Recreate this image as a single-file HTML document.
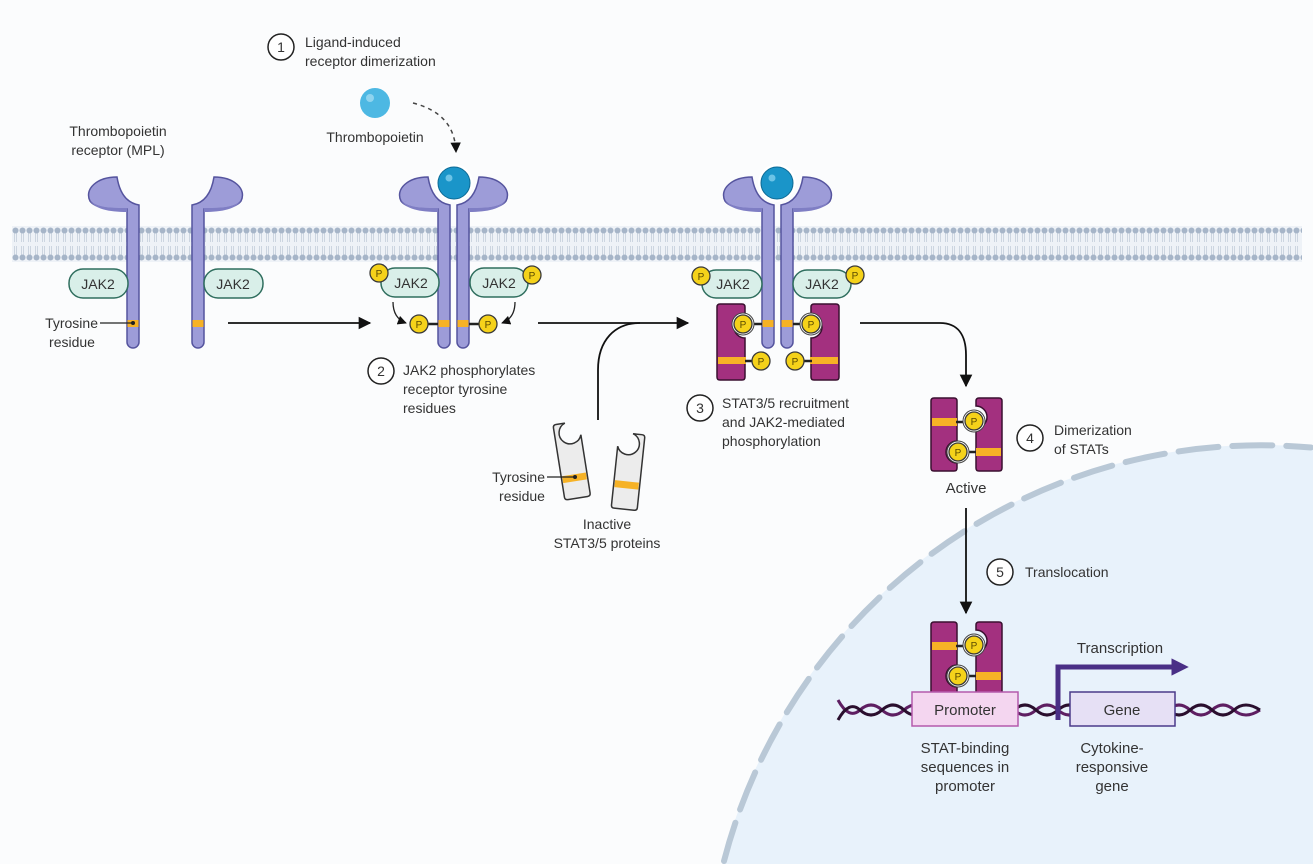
<!DOCTYPE html>
<html><head><meta charset="utf-8"><style>
html,body{margin:0;padding:0;background:#fbfcfd;width:1313px;height:864px;overflow:hidden;}
svg{display:block;font-family:"Liberation Sans",sans-serif;overflow:hidden;}
text{font-size:14px;fill:#333;}
</style></head><body>
<svg width="1313" height="864" viewBox="0 0 1313 864" xmlns="http://www.w3.org/2000/svg">
<defs>
<pattern id="mem" x="12" y="226" width="7" height="36" patternUnits="userSpaceOnUse">
<line x1="2.5" y1="7" x2="2.5" y2="16" stroke="#c3cedb" stroke-width="0.8"/>
<line x1="4.5" y1="7" x2="4.5" y2="16" stroke="#c3cedb" stroke-width="0.8"/>
<line x1="2.5" y1="20" x2="2.5" y2="29" stroke="#c3cedb" stroke-width="0.8"/>
<line x1="4.5" y1="20" x2="4.5" y2="29" stroke="#c3cedb" stroke-width="0.8"/>
<circle cx="3.5" cy="4.5" r="3" fill="#a6b5c8"/>
<circle cx="3.5" cy="31.5" r="3" fill="#a6b5c8"/>
</pattern>
<g id="rec">
<path d="M -10 0 C -30 0 -43 12 -37 24 C -31 32 -15 32 0 32 L 0 165 A 6 6 0 0 0 12 165 L 12 28 Q -6 25 -10 0 Z" fill="#9d9cd8" stroke="#55549e" stroke-width="1.5"/>
<path d="M -37 23 C -31 31 -15 31 0 31 L 0 35 C -18 35 -33 32 -37 23 Z" fill="#7f7ec4"/>
<rect x="0.5" y="143" width="11" height="7" fill="#f6b226"/>
</g>
<g id="statR">
<path d="M0,3 Q0,0 3,0 L25,0 Q28,0 28,3 L28,12 A11 11 0 0 0 28 34 L28 73 Q28 76 25 76 L3 76 Q0 76 0 73 Z"/>
</g>
<g id="statI">
<path d="M0,3 Q0,0 3,0 L12,0 A11 11 0 1 0 26 14 L26 73 Q26 76 23 76 L3 76 Q0 76 0 73 Z"/>
</g>
<g id="P">
<circle r="9" fill="#f5d21a" stroke="#3a3a3a" stroke-width="1.3"/>
<text y="4" text-anchor="middle" style="font-size:10px;fill:#5a4a00">P</text>
</g>
<marker id="ah" viewBox="0 0 10 10" refX="9" refY="5" markerWidth="7" markerHeight="7" orient="auto"><path d="M0,0 L10,5 L0,10 Z" fill="#111"/></marker>
<marker id="ahp" viewBox="0 0 10 10" refX="5" refY="5" markerWidth="3.5" markerHeight="3.5" orient="auto"><path d="M0,0 L10,5 L0,10 Z" fill="#4a2f86"/></marker>
</defs>

<!-- nucleus -->
<path d="M722,864 A555 555 0 0 1 1313,447.5 L1313,864 Z" fill="#e8f2fb"/>
<path d="M724,861 A555 555 0 0 1 1311,447.5" fill="none" stroke="#b9c8d6" stroke-width="6" stroke-dasharray="40 14" stroke-linecap="round"/>

<!-- membrane -->
<rect x="12" y="226" width="1290" height="36" fill="#eef2f7"/>
<rect x="12" y="226" width="1290" height="36" fill="url(#mem)"/>

<!-- left receptors -->
<use href="#rec" transform="translate(127,177)"/>
<use href="#rec" transform="translate(204,177) scale(-1,1)"/>
<rect x="69" y="269" width="59" height="29" rx="14" fill="#d9efe9" stroke="#2f6e5e" stroke-width="1.5"/>
<text x="98" y="289" text-anchor="middle">JAK2</text>
<rect x="204" y="269" width="59" height="29" rx="14" fill="#d9efe9" stroke="#2f6e5e" stroke-width="1.5"/>
<text x="233" y="289" text-anchor="middle">JAK2</text>
<text x="118" y="136" text-anchor="middle">Thrombopoietin</text>
<text x="118" y="155" text-anchor="middle">receptor (MPL)</text>
<text x="98" y="328" text-anchor="end">Tyrosine</text>
<text x="72" y="347" text-anchor="middle">residue</text>
<line x1="100" y1="323" x2="133" y2="323" stroke="#222" stroke-width="1.2"/>
<circle cx="133" cy="323" r="2" fill="#222"/>

<!-- step 1 -->
<circle cx="281" cy="47" r="13" fill="#fff" stroke="#222" stroke-width="1.5"/>
<text x="281" y="52" text-anchor="middle">1</text>
<text x="305" y="47">Ligand-induced</text>
<text x="305" y="66">receptor dimerization</text>
<circle cx="375" cy="103" r="15" fill="#4db8e3"/>
<circle cx="370" cy="98" r="4" fill="#8fd4ef"/>
<text x="375" y="142" text-anchor="middle">Thrombopoietin</text>
<path d="M413,103 C440,110 455,125 456,152" fill="none" stroke="#444" stroke-width="1.5" stroke-dasharray="4 4" marker-end="url(#ah)"/>

<!-- arrows -->
<line x1="228" y1="323" x2="370" y2="323" stroke="#111" stroke-width="1.8" marker-end="url(#ah)"/>
<line x1="538" y1="323" x2="688" y2="323" stroke="#111" stroke-width="1.8" marker-end="url(#ah)"/>
<path d="M598,420 L598,370 C598,340 615,323 640,323" fill="none" stroke="#111" stroke-width="1.8"/>
<path d="M860,323 L940,323 C958,323 966,335 966,355 L966,386" fill="none" stroke="#111" stroke-width="1.8" marker-end="url(#ah)"/>
<line x1="966" y1="508" x2="966" y2="613" stroke="#111" stroke-width="1.8" marker-end="url(#ah)"/>

<!-- step 2 dimer -->
<use href="#rec" transform="translate(438,177)"/>
<use href="#rec" transform="translate(469,177) scale(-1,1)"/>
<circle cx="454" cy="183" r="19" fill="#fff"/>
<circle cx="454" cy="183" r="16" fill="#1a95c9" stroke="#0d6a95" stroke-width="1"/>
<circle cx="449" cy="178" r="3.5" fill="#6cc3e6"/>
<rect x="381" y="268" width="58" height="29" rx="14" fill="#d9efe9" stroke="#2f6e5e" stroke-width="1.5"/>
<text x="411" y="288" text-anchor="middle">JAK2</text>
<rect x="470" y="268" width="58" height="29" rx="14" fill="#d9efe9" stroke="#2f6e5e" stroke-width="1.5"/>
<text x="499" y="288" text-anchor="middle">JAK2</text>
<use href="#P" transform="translate(379,273)"/>
<use href="#P" transform="translate(532,275)"/>
<line x1="419" y1="324" x2="438" y2="324" stroke="#222" stroke-width="2.5"/>
<line x1="469" y1="324" x2="488" y2="324" stroke="#222" stroke-width="2.5"/>
<use href="#P" transform="translate(419,324)"/>
<use href="#P" transform="translate(488,324)"/>
<path d="M393,302 C393,314 398,320 406,323" fill="none" stroke="#222" stroke-width="1.3" marker-end="url(#ah)"/>
<path d="M515,302 C515,314 510,320 502,323" fill="none" stroke="#222" stroke-width="1.3" marker-end="url(#ah)"/>
<circle cx="381" cy="371" r="13" fill="#fff" stroke="#222" stroke-width="1.5"/>
<text x="381" y="376" text-anchor="middle">2</text>
<text x="403" y="375">JAK2 phosphorylates</text>
<text x="403" y="394">receptor tyrosine</text>
<text x="403" y="413">residues</text>

<!-- inactive STATs -->
<g transform="translate(553,425) rotate(-9)" fill="#ececec" stroke="#333" stroke-width="1.5">
<use href="#statI"/>
<rect x="1" y="52" width="24" height="7" fill="#f6b226" stroke="none"/>
</g>
<g transform="translate(645,435) rotate(6) scale(-1,1)" fill="#ececec" stroke="#333" stroke-width="1.5">
<use href="#statI"/>
<rect x="1" y="48" width="24" height="7" fill="#f6b226" stroke="none"/>
</g>
<line x1="547" y1="477" x2="574" y2="477" stroke="#222" stroke-width="1.2"/>
<circle cx="575" cy="477" r="2" fill="#222"/>
<text x="545" y="482" text-anchor="end">Tyrosine</text>
<text x="522" y="501" text-anchor="middle">residue</text>
<text x="607" y="529" text-anchor="middle">Inactive</text>
<text x="607" y="548" text-anchor="middle">STAT3/5 proteins</text>

<!-- step 3 complex -->
<use href="#rec" transform="translate(762,177)"/>
<use href="#rec" transform="translate(793,177) scale(-1,1)"/>
<circle cx="777" cy="183" r="19" fill="#fff"/>
<circle cx="777" cy="183" r="16" fill="#1a95c9" stroke="#0d6a95" stroke-width="1"/>
<circle cx="772" cy="178" r="3.5" fill="#6cc3e6"/>
<rect x="702" y="270" width="60" height="28" rx="14" fill="#d9efe9" stroke="#2f6e5e" stroke-width="1.5"/>
<text x="733" y="289" text-anchor="middle">JAK2</text>
<rect x="793" y="270" width="58" height="28" rx="14" fill="#d9efe9" stroke="#2f6e5e" stroke-width="1.5"/>
<text x="822" y="289" text-anchor="middle">JAK2</text>
<use href="#P" transform="translate(701,276)"/>
<use href="#P" transform="translate(855,275)"/>
<g transform="translate(717,304)" fill="#a3307f" stroke="#3a1030" stroke-width="1.5">
<use href="#statR"/>
<rect x="1" y="53" width="28" height="7" fill="#f6b226" stroke="none"/>
</g>
<g transform="translate(839,304) scale(-1,1)" fill="#a3307f" stroke="#3a1030" stroke-width="1.5">
<use href="#statR"/>
<rect x="1" y="53" width="28" height="7" fill="#f6b226" stroke="none"/>
</g>
<line x1="745" y1="324" x2="762" y2="324" stroke="#222" stroke-width="2.5"/>
<line x1="793" y1="324" x2="810" y2="324" stroke="#222" stroke-width="2.5"/>
<circle cx="743" cy="324" r="11" fill="#fff" stroke="#444" stroke-width="1"/>
<use href="#P" transform="translate(743,324)"/>
<circle cx="811" cy="324" r="11" fill="#fff" stroke="#444" stroke-width="1"/>
<use href="#P" transform="translate(811,324)"/>
<line x1="745" y1="361" x2="760" y2="361" stroke="#222" stroke-width="2.5"/>
<line x1="795" y1="361" x2="812" y2="361" stroke="#222" stroke-width="2.5"/>
<use href="#P" transform="translate(761,361)"/>
<use href="#P" transform="translate(795,361)"/>
<circle cx="700" cy="408" r="13" fill="#fff" stroke="#222" stroke-width="1.5"/>
<text x="700" y="413" text-anchor="middle">3</text>
<text x="722" y="408">STAT3/5 recruitment</text>
<text x="722" y="427">and JAK2-mediated</text>
<text x="722" y="446">phosphorylation</text>

<!-- step 4 dimer -->
<g id="dimer">
<g transform="translate(931,398) scale(1,-1) translate(0,-73)" fill="#a3307f" stroke="#3a1030" stroke-width="1.5">
<path d="M0,3 Q0,0 3,0 L23,0 Q26,0 26,3 L26,8 A11 11 0 0 0 26 30 L26 70 Q26 73 23 73 L3 73 Q0 73 0 70 Z"/>
<rect x="1" y="45" width="25" height="8" fill="#f6b226" stroke="none"/>
</g>
<g transform="translate(1002,398) scale(-1,1)" fill="#a3307f" stroke="#3a1030" stroke-width="1.5">
<path d="M0,3 Q0,0 3,0 L23,0 Q26,0 26,3 L26,8 A11 11 0 0 0 26 30 L26 70 Q26 73 23 73 L3 73 Q0 73 0 70 Z"/>
<rect x="1" y="50" width="25" height="8" fill="#f6b226" stroke="none"/>
</g>
<line x1="956" y1="422" x2="970" y2="422" stroke="#222" stroke-width="2.5"/>
<line x1="962" y1="452" x2="976" y2="452" stroke="#222" stroke-width="2.5"/>
<circle cx="974" cy="421" r="11" fill="#fff" stroke="#444" stroke-width="1"/>
<use href="#P" transform="translate(974,421)"/>
<circle cx="958" cy="452" r="11" fill="#fff" stroke="#444" stroke-width="1"/>
<use href="#P" transform="translate(958,452)"/>
</g>
<text x="966" y="493" text-anchor="middle" style="font-size:15px">Active</text>
<circle cx="1030" cy="438" r="13" fill="#fff" stroke="#222" stroke-width="1.5"/>
<text x="1030" y="443" text-anchor="middle">4</text>
<text x="1054" y="435">Dimerization</text>
<text x="1054" y="454">of STATs</text>

<!-- step 5 -->
<circle cx="1000" cy="572" r="13" fill="#fff" stroke="#222" stroke-width="1.5"/>
<text x="1000" y="577" text-anchor="middle">5</text>
<text x="1025" y="577">Translocation</text>

<!-- DNA -->
<path d="M838,700 Q849,720 860,710 T882,710 T904,710 T926,710 T948,710 T970,710 T992,710 T1014,710 T1036,710 T1058,710 T1080,710 T1102,710 T1124,710 T1146,710 T1168,710 T1190,710 T1212,710 T1234,710 T1260,710" fill="none" stroke="#5e1f62" stroke-width="3"/>
<path d="M838,720 Q849,700 860,710 T882,710 T904,710 T926,710 T948,710 T970,710 T992,710 T1014,710 T1036,710 T1058,710 T1080,710 T1102,710 T1124,710 T1146,710 T1168,710 T1190,710 T1212,710 T1234,710 T1260,710" fill="none" stroke="#2a0f2e" stroke-width="3"/>
<path d="M1058,720 L1058,667 L1180,667" fill="none" stroke="#4a2f86" stroke-width="5" marker-end="url(#ahp)"/>
<text x="1120" y="653" text-anchor="middle" style="font-size:15px">Transcription</text>
<use href="#dimer" transform="translate(0,224)"/>
<rect x="912" y="692" width="106" height="34" fill="#f4d6f0" stroke="#b45aac" stroke-width="1.5"/>
<text x="965" y="715" text-anchor="middle" style="font-size:15px">Promoter</text>
<rect x="1070" y="692" width="105" height="34" fill="#e6e0f5" stroke="#4a3a8a" stroke-width="1.5"/>
<text x="1122" y="715" text-anchor="middle" style="font-size:15px">Gene</text>
<text x="965" y="753" text-anchor="middle" style="font-size:15px">STAT-binding</text>
<text x="965" y="772" text-anchor="middle" style="font-size:15px">sequences in</text>
<text x="965" y="791" text-anchor="middle" style="font-size:15px">promoter</text>
<text x="1112" y="753" text-anchor="middle" style="font-size:15px">Cytokine-</text>
<text x="1112" y="772" text-anchor="middle" style="font-size:15px">responsive</text>
<text x="1112" y="791" text-anchor="middle" style="font-size:15px">gene</text>
</svg>
</body></html>
